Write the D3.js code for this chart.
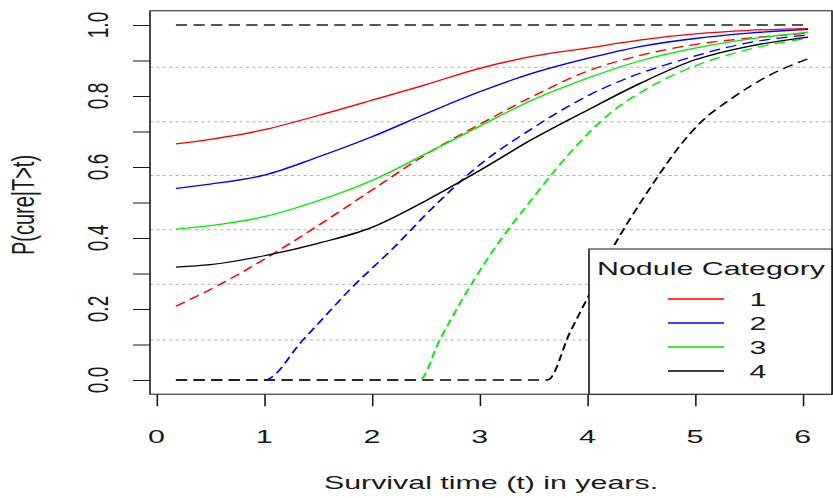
<!DOCTYPE html>
<html>
<head>
<meta charset="utf-8">
<script src="https://cdn.jsdelivr.net/npm/d3@7"></script>
<style>
    body { margin: 0; background: #fff; }
    text { font-family: "Liberation Sans", Arial, sans-serif; fill: #1a1a1a; }
</style>
</head>
<body>
<svg id="chart" width="833" height="498"></svg>
<script>
// values
let categories = ["1", "2", "3", "4"];
let categoryColors = ["#ff0000", "#0000ff", "#00ee00", "#000000"];

let timeGrid = [0.18, 0.5, 1, 1.5, 2, 2.5, 3, 3.5, 4, 4.5, 5, 5.5, 6.05];
let solidCat1 = [0.665, 0.678, 0.705, 0.745, 0.788, 0.832, 0.878, 0.912, 0.935, 0.958, 0.975, 0.985, 0.99];
let solidCat2 = [0.54, 0.552, 0.577, 0.628, 0.685, 0.75, 0.812, 0.865, 0.906, 0.94, 0.962, 0.977, 0.988];
let solidCat3 = [0.425, 0.435, 0.46, 0.505, 0.562, 0.637, 0.715, 0.79, 0.85, 0.9, 0.935, 0.96, 0.98];
let solidCat4 = [0.318, 0.325, 0.35, 0.385, 0.43, 0.505, 0.59, 0.68, 0.76, 0.837, 0.902, 0.94, 0.966];

let dashedCat1Time = [0.18, 0.5, 1, 1.5, 2, 2.5, 3, 3.5, 4, 4.5, 5, 5.5, 6.05];
let dashedCat1 = [0.208, 0.255, 0.34, 0.435, 0.535, 0.635, 0.72, 0.8, 0.87, 0.915, 0.945, 0.963, 0.977];
let dashedCat2Time = [0.18, 1.0, 1.36, 1.82, 2.2, 2.57, 3.0, 3.47, 3.93, 4.4, 4.86, 5.48, 6.05];
let dashedCat2 = [0, 0, 0.113, 0.262, 0.372, 0.487, 0.606, 0.705, 0.789, 0.854, 0.9, 0.949, 0.972];
let dashedCat3Time = [0.18, 2.44, 2.63, 3.07, 3.5, 3.93, 4.24, 4.61, 5.02, 5.48, 6.05];
let dashedCat3 = [0, 0, 0.113, 0.34, 0.515, 0.67, 0.758, 0.83, 0.887, 0.93, 0.963];
let dashedCat4Time = [0.18, 3.63, 3.84, 4.0, 4.27, 4.52, 4.67, 4.86, 5.05, 5.35, 5.67, 6.05];
let dashedCat4 = [0, 0, 0.135, 0.23, 0.39, 0.512, 0.58, 0.66, 0.725, 0.795, 0.855, 0.905];

let refLineTime = [0.18, 6.05];
let refLine = [1, 1];

let gridLevels = [0.1127, 0.27, 0.4234, 0.576, 0.7276, 0.881];
let xTicks = [0, 1, 2, 3, 4, 5, 6];
let yTicks = [0, 0.1, 0.2, 0.3, 0.4, 0.5, 0.6, 0.7, 0.8, 0.9, 1.0];
let yTickLabels = [0, 0.2, 0.4, 0.6, 0.8, 1.0];

// the reference is stretched sideways, so everything is drawn in a squeezed frame
let SX = 1.6;
let fontSize = 19;

let svg = d3.select("#chart");
let g = svg.append("g").attr("transform", "scale(" + SX + ",1)");

let xScale = d3.scaleLinear().domain([-0.0605, 6.2715]).range([150 / SX, 832 / SX]);
let yScale = d3.scaleLinear().domain([-0.04, 1.04]).range([394.2, 10.8]);

let zip = (ts, vs) => ts.map((t, i) => [t, vs[i]]);

let lineGen = d3.line()
    .x((d) => xScale(d[0]))
    .y((d) => yScale(d[1]))
    .curve(d3.curveMonotoneX);

// gray dotted horizontal lines
g.selectAll(".grid")
    .data(gridLevels)
    .enter().append("line")
    .attr("class", "grid")
    .attr("x1", xScale.range()[0])
    .attr("x2", xScale.range()[1])
    .attr("y1", (d) => yScale(d))
    .attr("y2", (d) => yScale(d))
    .attr("stroke", "#b0b0b0")
    .attr("stroke-width", 1)
    .attr("stroke-dasharray", "2,2");

g.append("path")
    .datum(zip(refLineTime, refLine))
    .attr("d", lineGen)
    .attr("fill", "none")
    .attr("stroke", "#555")
    .attr("stroke-width", 2)
    .attr("stroke-dasharray", "7,4");

// black dashed goes after blue/green so the flat zero stretch stays black
let series = [
    {data: zip(dashedCat1Time, dashedCat1), color: categoryColors[0], dash: "7,4"},
    {data: zip(dashedCat2Time, dashedCat2), color: categoryColors[1], dash: "7,4"},
    {data: zip(dashedCat3Time, dashedCat3), color: categoryColors[2], dash: "7,4"},
    {data: zip(dashedCat4Time, dashedCat4), color: categoryColors[3], dash: "7,4"},
    {data: zip(timeGrid, solidCat4), color: categoryColors[3], dash: null},
    {data: zip(timeGrid, solidCat3), color: categoryColors[2], dash: null},
    {data: zip(timeGrid, solidCat2), color: categoryColors[1], dash: null},
    {data: zip(timeGrid, solidCat1), color: categoryColors[0], dash: null},
];

g.selectAll(".curve")
    .data(series)
    .enter().append("path")
    .attr("class", "curve")
    .attr("d", (d) => lineGen(d.data))
    .attr("fill", "none")
    .attr("stroke", (d) => d.color)
    .attr("stroke-width", 1.3)
    .attr("stroke-dasharray", (d) => d.dash);

// axes (ticks only, labels drawn separately)
let xAxis = g.append("g")
    .attr("transform", "translate(0," + yScale.range()[0] + ")")
    .call(d3.axisBottom(xScale).tickValues(xTicks).tickSize(12).tickSizeOuter(0).tickFormat(""));
xAxis.select(".domain").remove();
xAxis.selectAll("line").attr("stroke", "#1a1a1a");

let yAxis = g.append("g")
    .attr("transform", "translate(" + xScale.range()[0] + ",0)")
    .call(d3.axisLeft(yScale).tickValues(yTicks).tickSize(17 / SX).tickSizeOuter(0).tickFormat(""));
yAxis.select(".domain").remove();
yAxis.selectAll("line").attr("stroke", "#1a1a1a");

g.selectAll(".xlab")
    .data(xTicks)
    .enter().append("text")
    .attr("class", "xlab")
    .attr("x", (d) => xScale(d))
    .attr("y", 443)
    .attr("text-anchor", "middle")
    .style("font-size", fontSize + "px")
    .text((d) => d);

g.selectAll(".ylab")
    .data(yTickLabels)
    .enter().append("text")
    .attr("class", "ylab")
    .attr("transform", (d) => "translate(" + (108 / SX) + "," + yScale(d) + ") rotate(-90)")
    .attr("text-anchor", "middle")
    .style("font-size", fontSize + "px")
    .text((d) => d3.format(".1f")(d));

// plot frame
g.append("rect")
    .attr("x", xScale.range()[0])
    .attr("y", yScale.range()[1])
    .attr("width", xScale.range()[1] - xScale.range()[0])
    .attr("height", yScale.range()[0] - yScale.range()[1])
    .attr("fill", "none")
    .attr("stroke", "#1a1a1a")
    .attr("stroke-width", 1);

g.append("text")
    .attr("x", 491 / SX)
    .attr("y", 489)
    .attr("text-anchor", "middle")
    .style("font-size", fontSize + "px")
    .text("Survival time (t) in years.");

g.append("text")
    .attr("transform", "translate(" + (34 / SX) + ",205) rotate(-90)")
    .attr("text-anchor", "middle")
    .style("font-size", (fontSize + 1) + "px")
    .text("P(cure|T>t)");

// legend
let legend = g.append("g");
legend.append("rect")
    .attr("x", 589 / SX)
    .attr("y", 249)
    .attr("width", (832 - 589) / SX)
    .attr("height", yScale.range()[0] - 249)
    .attr("fill", "#fff")
    .attr("stroke", "#1a1a1a")
    .attr("stroke-width", 1);

legend.append("text")
    .attr("x", 711 / SX)
    .attr("y", 275)
    .attr("text-anchor", "middle")
    .style("font-size", fontSize + "px")
    .text("Nodule Category");

let items = legend.selectAll(".item")
    .data(categories)
    .enter().append("g")
    .attr("class", "item")
    .attr("transform", (d, i) => "translate(0," + (299 + i * 24) + ")");

items.append("line")
    .attr("x1", 668 / SX)
    .attr("x2", 724 / SX)
    .attr("stroke", (d, i) => categoryColors[i])
    .attr("stroke-width", 1.3);

items.append("text")
    .attr("x", 758 / SX)
    .attr("y", 7)
    .attr("text-anchor", "middle")
    .style("font-size", fontSize + "px")
    .text((d) => d);
</script>
</body>
</html>
